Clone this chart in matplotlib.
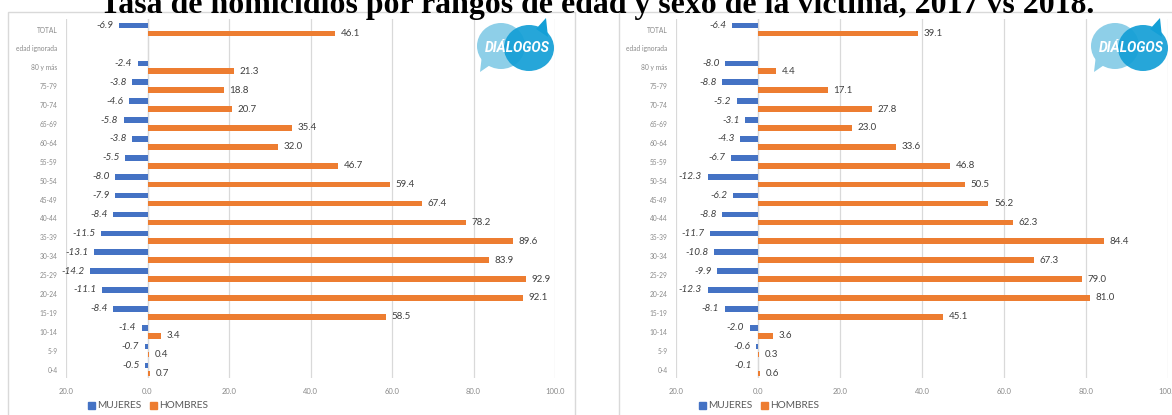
import numpy as np
import matplotlib
matplotlib.use("Agg")
import matplotlib.pyplot as plt
from matplotlib.patches import Rectangle, Ellipse, Polygon

W, H = 1172, 415

grupos = ["TOTAL", "edad ignorada", "80 y más", "75-79", "70-74", "65-69", "60-64",
          "55-59", "50-54", "45-49", "40-44", "35-39", "30-34", "25-29", "20-24",
          "15-19", "10-14", "5-9", "0-4"]

mujeres_2017 = [-6.9, np.nan, -2.4, -3.8, -4.6, -5.8, -3.8, -5.5, -8.0, -7.9, -8.4,
                -11.5, -13.1, -14.2, -11.1, -8.4, -1.4, -0.7, -0.5]
hombres_2017 = [46.1, np.nan, 21.3, 18.8, 20.7, 35.4, 32.0, 46.7, 59.4, 67.4, 78.2,
                89.6, 83.9, 92.9, 92.1, 58.5, 3.4, 0.4, 0.7]

mujeres_2018 = [-6.4, np.nan, -8.0, -8.8, -5.2, -3.1, -4.3, -6.7, -12.3, -6.2, -8.8,
                -11.7, -10.8, -9.9, -12.3, -8.1, -2.0, -0.6, -0.1]
hombres_2018 = [39.1, np.nan, 4.4, 17.1, 27.8, 23.0, 33.6, 46.8, 50.5, 56.2, 62.3,
                84.4, 67.3, 79.0, 81.0, 45.1, 3.6, 0.3, 0.6]

x_ticks = [-20, 0, 20, 40, 60, 80, 100]

AZUL = "#4472C4"
NARANJA = "#ED7D31"
GRIS = "#8a8a8a"
TEXTO = "#404040"
FUENTE = ["Lato", "DejaVu Sans"]

fig = plt.figure(figsize=(W / 100, H / 100), dpi=100)


def px(x0, y0, w, h):
    # pixel box (top-left origin) -> figure fraction
    return [x0 / W, 1 - (y0 + h) / H, w / W, h / H]


def marco(x0, y0, x1, y1):
    fig.patches.append(Rectangle((x0 / W, 1 - y1 / H), (x1 - x0) / W, (y1 - y0) / H,
                                 transform=fig.transFigure, fill=False,
                                 edgecolor="#d9d9d9", linewidth=1.0))


def logo(x0, y0):
    ax = fig.add_axes(px(x0, y0, 82, 56))
    ax.set_xlim(0, 82)
    ax.set_ylim(56, 0)
    ax.axis("off")
    ax.add_patch(Polygon([[8, 38], [6, 55], [22, 44]], closed=True,
                         facecolor="#8ecfe8", edgecolor="none"))
    ax.add_patch(Ellipse((27, 29), 48, 46, facecolor="#8ecfe8", edgecolor="none"))
    ax.add_patch(Polygon([[62, 12], [72, 1], [74, 20]], closed=True,
                         facecolor="#139fd6", edgecolor="none"))
    ax.add_patch(Ellipse((55, 31), 50, 46, facecolor="#139fd6", edgecolor="none",
                         alpha=0.92))
    ax.text(43, 31, "DIÁLOGOS", color="white", fontsize=10, fontweight="bold",
            style="italic", ha="center", va="center", family=["Roboto", "DejaVu Sans"],
            stretch="condensed")


def panel(x_left, x_right, mujeres, hombres):
    ax = fig.add_axes(px(x_left, 19, x_right - x_left, 359))
    y = np.arange(len(grupos))
    m = np.array(mujeres, dtype=float)
    h = np.array(hombres, dtype=float)
    ax.barh(y - 0.21, m, height=0.3, color=AZUL)
    ax.barh(y + 0.21, h, height=0.3, color=NARANJA)
    for yi, v in zip(y, m):
        if not np.isnan(v):
            ax.annotate(f"{v:.1f}", (v, yi - 0.21), xytext=(-4, 0),
                        textcoords="offset points", ha="right", va="center",
                        fontsize=7.2, style="italic", color=TEXTO, family=FUENTE)
    for yi, v in zip(y, h):
        if not np.isnan(v):
            ax.annotate(f"{v:.1f}", (v, yi + 0.21), xytext=(4, 0),
                        textcoords="offset points", ha="left", va="center",
                        fontsize=7, color=TEXTO, family=FUENTE)
    ax.set_xlim(-20, 100)
    ax.set_ylim(18.45, -0.56)
    ax.set_xticks(x_ticks)
    ax.set_xticklabels([f"{abs(t):.1f}" for t in x_ticks], fontsize=5.5, color=GRIS,
                       family=FUENTE)
    ax.set_yticks(y)
    ax.set_yticklabels(grupos, fontsize=4.8, color=GRIS, family=FUENTE)
    ax.tick_params(length=0, pad=7)
    ax.tick_params(axis="y", pad=6)
    ax.grid(axis="x", color="#d9d9d9", linewidth=0.9)
    ax.set_axisbelow(True)
    for s in ax.spines.values():
        s.set_visible(False)
    ax.axvline(0, color="#d9d9d9", linewidth=0.9, zorder=0)
    return ax


ax1 = panel(66, 555, mujeres_2017, hombres_2017)
ax2 = panel(676, 1168, mujeres_2018, hombres_2018)

marco(8, 11.7, 575, 430)
marco(619, 11.7, 1185, 430)

# leyenda de cada panel
for x0 in (88, 699):
    lx = fig.add_axes(px(x0 - 5, 398, 140, 14))
    lx.axis("off")
    lx.set_xlim(0, 140)
    lx.set_ylim(0, 14)
    lx.add_patch(Rectangle((5, 3.5), 6.5, 6.5, color=AZUL))
    lx.text(14, 6.7, "MUJERES", fontsize=7.3, color="#595959", va="center", family=FUENTE)
    lx.add_patch(Rectangle((67, 3.5), 6.5, 6.5, color=NARANJA))
    lx.text(76, 6.7, "HOMBRES", fontsize=7.3, color="#595959", va="center", family=FUENTE)

logo(474, 17)
logo(1088, 17)

titulo = fig.text(597 / W, 1 - 12.5 / H,
                  "Tasa de homicidios por rangos de edad y sexo de la víctima, 2017 vs 2018.",
                  ha="center", va="baseline", fontsize=21, fontweight="bold",
                  family=["Liberation Serif", "DejaVu Serif"], color="black")
# ajustar el tamaño del título al ancho deseado
r = fig.canvas.get_renderer()
ancho = titulo.get_window_extent(r).width
titulo.set_fontsize(21 * 993 / ancho)

fig.savefig("out.png", dpi=100, facecolor="white")
